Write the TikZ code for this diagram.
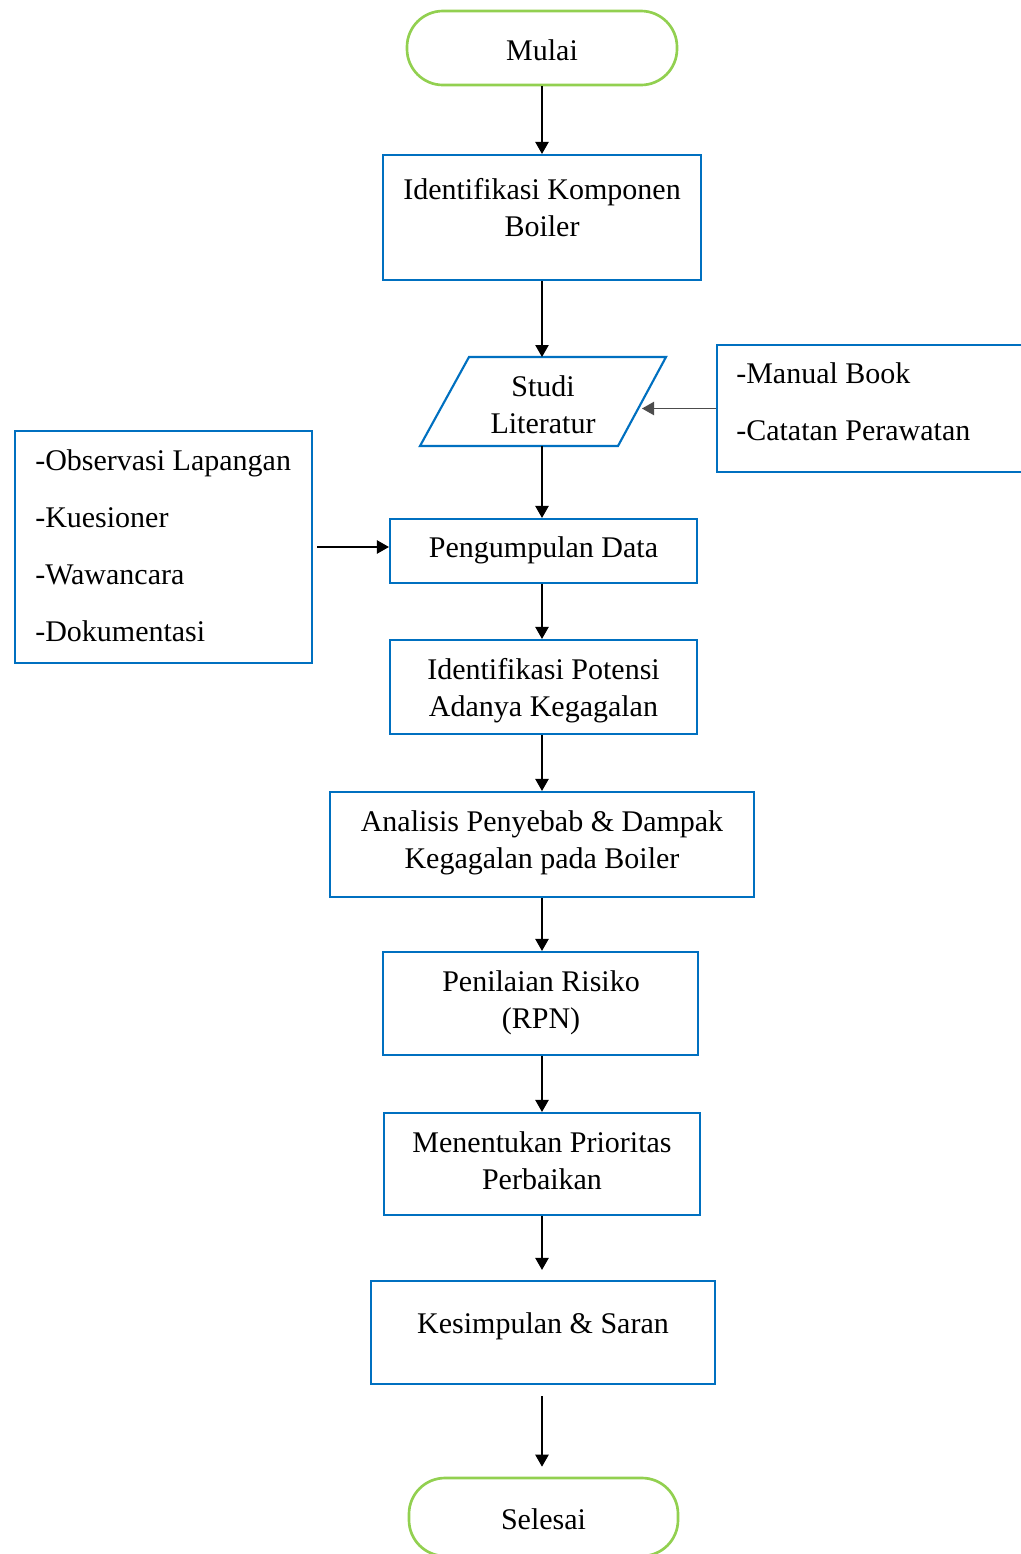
\documentclass[tikz,border=0pt]{standalone}
\usepackage{fontspec}
\setmainfont{Liberation Serif}
\usetikzlibrary{arrows.meta}
\newdimen\px \px=0.75pt
\definecolor{boxblue}{HTML}{0070C0}
\definecolor{termgreen}{HTML}{92D050}
\begin{document}
\begin{tikzpicture}[x=0.75pt,y=-0.75pt,
  box/.style={draw=boxblue, line width=1.6pt, rectangle, inner sep=0pt},
  term/.style={draw=termgreen, line width=2pt, rectangle, rounded corners=36\px, inner sep=0pt},
  txt/.style={font=\fontsize{22.5}{27.75}\selectfont, align=center, inner sep=0pt},
  lst/.style={font=\fontsize{22.5}{42.75}\selectfont, align=left, inner sep=0pt, anchor=west},
  arr/.style={-{Triangle[length=9pt,width=10pt]}, line width=1pt, black},
  garr/.style={-{Triangle[length=9pt,width=10pt]}, line width=0.8pt, black!70, }]
\clip (0,0) rectangle (1021,1554);
\coordinate (axis) at (542,0);
% terminators
\node[term, minimum width=270\px, minimum height=74\px] (mulai) at (542,48) {};
\node[txt] (tmulai) at (542,50) {Mulai};
\node[term, minimum width=269\px, minimum height=78\px] (selesai) at (543.5,1517) {};
\node[txt] (tselesai) at (543.5,1519) {Selesai};
% process boxes
\node[box, minimum width=318\px, minimum height=125\px] (b1) at (542,217.5) {};
\node[txt] (t1) at (542,207.5) {Identifikasi Komponen\\Boiler};
% parallelogram
\draw[boxblue, line width=1.6pt] (469,357) -- (666,357) -- (618,446) -- (420,446) -- cycle;
\coordinate (stTop) at (542,357);
\coordinate (stBot) at (542,446);
\coordinate (stRight) at (642,407);
\node[txt] (tst) at (543,404.5) {Studi\\Literatur};
\node[box, minimum width=307\px, minimum height=64\px] (peng) at (543.5,551) {};
\node[txt] (tpeng) at (543.5,550.5) {Pengumpulan Data};
\node[box, minimum width=307\px, minimum height=94\px] (pot) at (543.5,687) {};
\node[txt] (tpot) at (543.5,690.5) {Identifikasi Potensi\\Adanya Kegagalan};
\node[box, minimum width=424\px, minimum height=105\px] (ana) at (542,844.5) {};
\node[txt] (tana) at (542,842.5) {Analisis Penyebab \& Dampak\\Kegagalan pada Boiler};
\node[box, minimum width=315\px, minimum height=103\px] (pen) at (540.5,1003.5) {};
\node[txt] (tpen) at (541,1002.5) {Penilaian Risiko\\(RPN)};
\node[box, minimum width=316\px, minimum height=102\px] (men) at (542,1164) {};
\node[txt] (tmen) at (542,1161) {Menentukan Prioritas\\Perbaikan};
\node[box, minimum width=344\px, minimum height=103\px] (kes) at (543,1332.5) {};
\node[txt] (tkes) at (543,1326) {Kesimpulan \& Saran};
% side boxes
\node[box, minimum width=297\px, minimum height=232\px] (lbox) at (163.5,547) {};
\node[lst] (tl) at (35,545.5) {-Observasi Lapangan\\-Kuesioner\\-Wawancara\\-Dokumentasi};
\node[box, minimum width=313\px, minimum height=127\px] (rbox) at (873.5,408.5) {};
\node[lst] (tr) at (736,402) {-Manual Book\\-Catatan Perawatan};
% connectors
\draw[arr] (mulai.south -| axis) -- (b1.north -| axis);
\draw[arr] (b1.south -| axis) -- (stTop -| axis);
\draw[arr] (stBot -| axis) -- (peng.north -| axis);
\draw[arr] (peng.south -| axis) -- (pot.north -| axis);
\draw[arr] (pot.south -| axis) -- (ana.north -| axis);
\draw[arr] (ana.south -| axis) -- (pen.north -| axis);
\draw[arr] (pen.south -| axis) -- (men.north -| axis);
\draw[arr, shorten >=10\px] (men.south -| axis) -- (kes.north -| axis);
\draw[arr, shorten <=11\px, shorten >=10\px] (kes.south -| axis) -- (selesai.north -| axis);
\draw[arr, shorten <=4\px] (lbox.east) -- (lbox.east -| peng.west);
\draw[garr] (rbox.west) -- (rbox.west -| stRight);
\end{tikzpicture}
\end{document}
